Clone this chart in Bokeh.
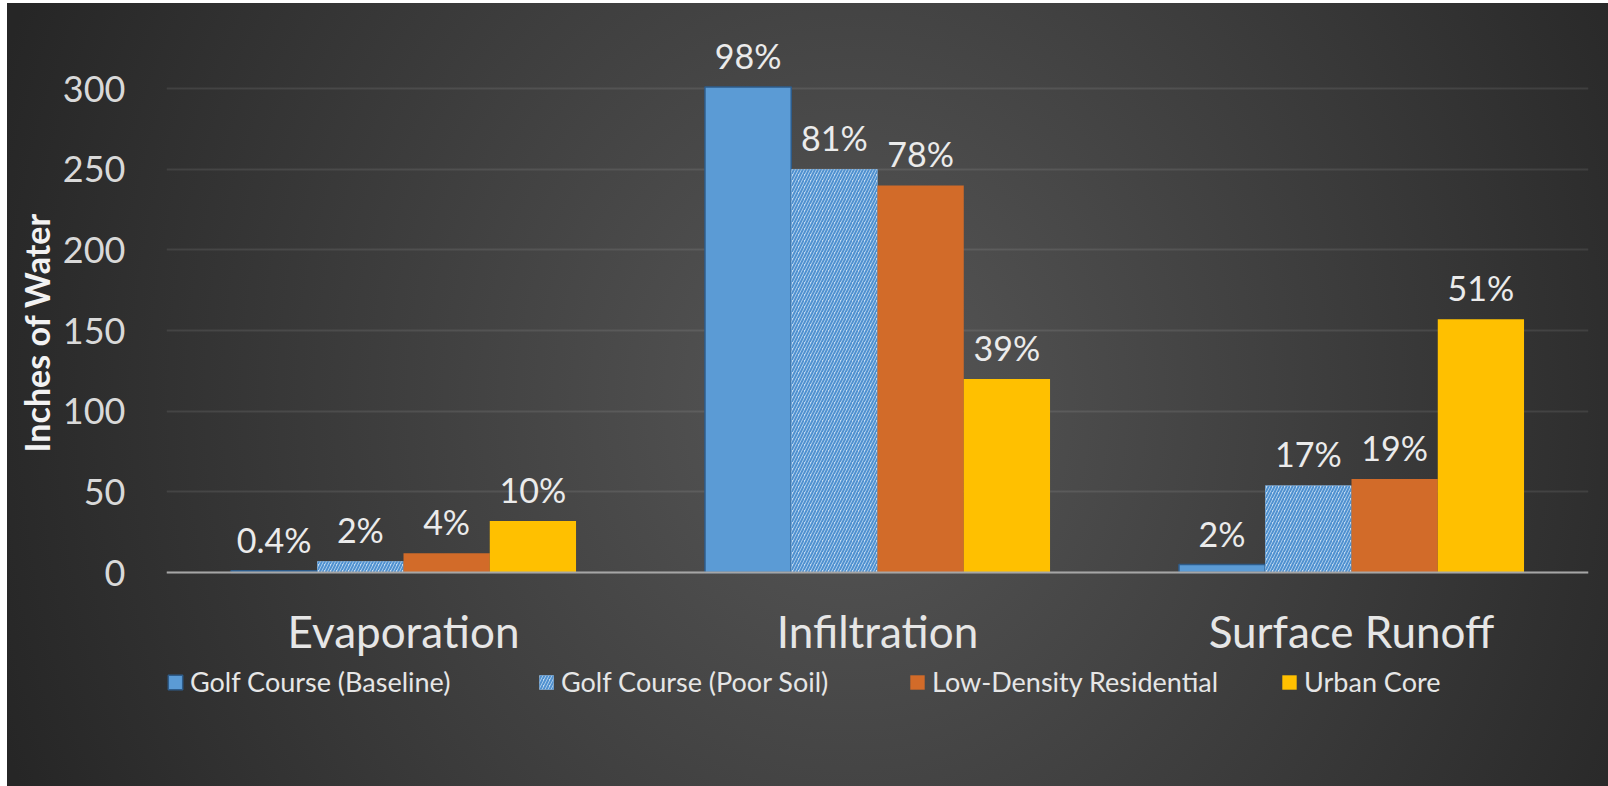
from bokeh.plotting import figure
from bokeh.models import (FactorRange, Range1d, Legend, LegendItem, ColumnDataSource,
                          FixedTicker, LabelSet, Title)
from bokeh.transform import dodge
from bokeh.core.properties import value
from bokeh.embed import file_html
from bokeh.resources import INLINE

# ---------------- data ----------------
categories = ["Evaporation", "Infiltration", "Surface Runoff"]
series_names = ["Golf Course (Baseline)", "Golf Course (Poor Soil)",
                "Low-Density Residential", "Urban Core"]
golf_baseline = [1.2, 301, 5]
golf_poor_soil = [7, 250, 54]
low_density = [12, 240, 58]
urban_core = [32, 120, 157]
golf_baseline_pct = ["0.4%", "98%", "2%"]
golf_poor_soil_pct = ["2%", "81%", "17%"]
low_density_pct = ["4%", "78%", "19%"]
urban_core_pct = ["10%", "39%", "51%"]
y_ticks = [0, 50, 100, 150, 200, 250, 300]

FONT = "Lato"

# frame covers the area below the axis too (legend lives there); the
# category axis is pinned at y = 0 with fixed_location
p = figure(width=1608, height=786, frame_width=1422, frame_height=756,
           x_range=FactorRange(factors=categories, range_padding=0),
           y_range=Range1d(-132.6, 336),
           output_backend="svg", toolbar_location=None,
           min_border_left=166, min_border_right=20,
           min_border_top=30, min_border_bottom=0)

p.background_fill_alpha = 0
p.border_fill_alpha = 0
p.outline_line_color = None
p.styles = {"background": (
    "linear-gradient(to right, #ffffff 7px, rgba(255,255,255,0) 7px), "
    "linear-gradient(to bottom, #ffffff 3px, rgba(255,255,255,0) 3px), "
    "radial-gradient(900px 1000px at 850px 400px, #575757 0%, #262626 100%)")}

# y axis
p.yaxis.ticker = FixedTicker(ticks=y_ticks)
p.yaxis.major_tick_line_color = None
p.yaxis.minor_tick_line_color = None
p.yaxis.major_tick_out = 0
p.yaxis.axis_line_color = None
p.yaxis.major_label_text_font = FONT
p.yaxis.major_label_text_font_size = "36px"
p.yaxis.major_label_text_color = "#d9d9d9"
p.yaxis.major_label_standoff = 41

ytitle = Title(text="Inches of Water", align="left", offset=334,
               text_font=FONT, text_font_style="bold", text_font_size="34px",
               text_color="#f2f2f2", standoff=5)
p.add_layout(ytitle, "left")

# x axis
p.xaxis.fixed_location = 0
p.xaxis.major_tick_line_color = None
p.xaxis.minor_tick_line_color = None
p.xaxis.major_tick_out = 0
p.xaxis.axis_line_color = "#a6a6a6"
p.xaxis.axis_line_width = 2
p.xaxis.major_label_text_font = FONT
p.xaxis.major_label_text_font_size = "44px"
p.xaxis.major_label_text_color = "#e6e6e6"
p.xaxis.major_label_standoff = 32

p.xgrid.grid_line_color = None
p.ygrid.grid_line_color = "#ffffff"
p.ygrid.grid_line_alpha = 0.09
p.ygrid.grid_line_width = 2

bar_w = 0.182
offsets = [-0.273, -0.091, 0.091, 0.273]
values = [golf_baseline, golf_poor_soil, low_density, urban_core]
pcts = [golf_baseline_pct, golf_poor_soil_pct, low_density_pct, urban_core_pct]
styles = [
    dict(fill_color="#5b9bd5", line_color="#2e5c8a", line_width=1.5),
    dict(fill_color="#c5dcf1", line_color=None, hatch_pattern="/",
         hatch_color="#4f91d0", hatch_scale=6, hatch_weight=2),
    dict(fill_color="#d26b29", line_color=None),
    dict(fill_color="#ffc000", line_color=None),
]

items = []
for name, vals, pc, off, st in zip(series_names, values, pcts, offsets, styles):
    src = ColumnDataSource(dict(cat=categories, val=vals, pct=pc))
    r = p.vbar(x=dodge("cat", off, range=p.x_range), top="val", width=bar_w,
               source=src, **st)
    labels = LabelSet(x=dodge("cat", off, range=p.x_range), y="val", text="pct",
                      source=src, text_align="center", text_baseline="alphabetic",
                      y_offset=18, text_font=value(FONT), text_font_size=value("34px"),
                      text_color=value("#ebebeb"))
    p.add_layout(labels)
    items.append(LegendItem(label=name, renderers=[r]))

legend = Legend(items=items, orientation="horizontal", location=(0, 88),
                padding=0, margin=0, spacing=62, label_standoff=6,
                glyph_width=18, glyph_height=18, label_width=285,
                label_text_font=FONT, label_text_font_size="27px",
                label_text_color="#e6e6e6",
                background_fill_alpha=0, border_line_color=None)
p.add_layout(legend)

open("out.html", "w").write(file_html(p, INLINE))
